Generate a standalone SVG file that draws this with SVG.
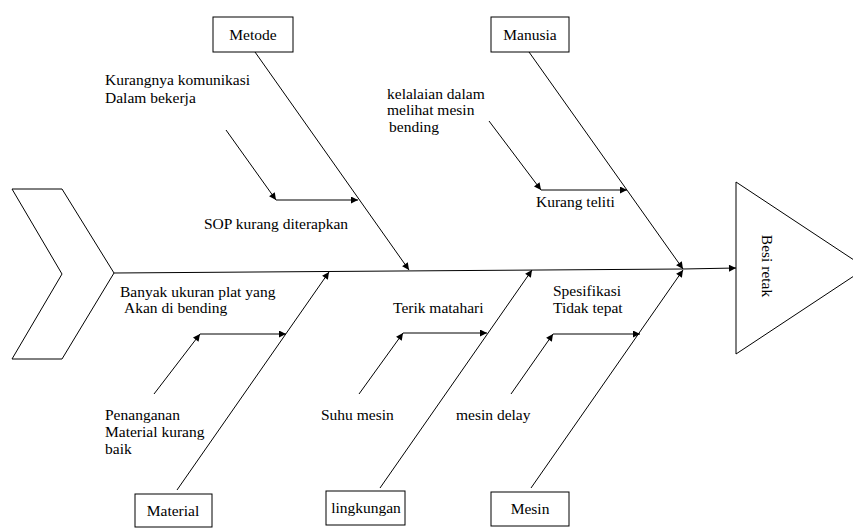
<svg xmlns="http://www.w3.org/2000/svg" width="853" height="528" viewBox="0 0 853 528">
<defs>
<marker id="arr" viewBox="0 0 10 10" refX="10" refY="5" markerWidth="9" markerHeight="7" markerUnits="userSpaceOnUse" orient="auto">
<path d="M0,0 L10,5 L0,10 z" fill="#000"/>
</marker>
</defs>
<style>
text{font-family:'Liberation Serif','DejaVu Serif',serif;font-size:15.5px;fill:#000}
.c{text-anchor:middle}
.box{fill:#fff;stroke:#000;stroke-width:1}
.ln{stroke:#000;stroke-width:1;fill:none}
.a{marker-end:url(#arr)}
</style>
<rect width="853" height="528" fill="#fff"/>
<g id="tail"><path class="ln" d="M12,189 L62,189 L114,273 L62,359 L12,359 L62,274 Z"/></g>
<g id="head">
<path class="ln" d="M736,182 L866,268 L736,354 Z" fill="#fff"/>
<text class="c" transform="translate(762,266) rotate(90)">Besi retak</text>
</g>
<g id="metode"><rect class="box" x="213" y="17" width="80" height="35"/><text class="c" x="253" y="40">Metode</text></g>
<g id="manusia"><rect class="box" x="491" y="17" width="78" height="35"/><text class="c" x="530" y="40">Manusia</text></g>
<g id="material"><rect class="box" x="135" y="494" width="77" height="33"/><text class="c" x="173" y="516">Material</text></g>
<g id="lingkungan"><rect class="box" x="326" y="491" width="79" height="34"/><text class="c" x="366" y="513">lingkungan</text></g>
<g id="mesin"><rect class="box" x="491" y="492" width="78" height="34"/><text class="c" x="530" y="514">Mesin</text></g>
<g id="causes">
<text x="105" y="85">Kurangnya komunikasi</text>
<text x="105" y="103">Dalam bekerja</text>
<text x="204" y="229">SOP kurang diterapkan</text>
<text x="387" y="99">kelalaian dalam</text>
<text x="387" y="115">melihat mesin</text>
<text x="389" y="132">bending</text>
<text x="536" y="207">Kurang teliti</text>
<text x="120" y="297">Banyak ukuran plat yang</text>
<text x="124" y="313">Akan di bending</text>
<text x="105" y="420">Penanganan</text>
<text x="105" y="437">Material kurang</text>
<text x="105" y="454">baik</text>
<text x="393" y="313">Terik matahari</text>
<text x="321" y="420">Suhu mesin</text>
<text x="553" y="296">Spesifikasi</text>
<text x="553" y="313">Tidak tepat</text>
<text x="456" y="420">mesin delay</text>
</g>
<g id="connectors">
<line class="ln" x1="114" y1="273" x2="683" y2="269"/>
<line class="ln a" x1="683" y1="269" x2="736" y2="268"/>
<line class="ln a" x1="255" y1="52" x2="409" y2="270"/>
<line class="ln a" x1="529" y1="52" x2="683" y2="269"/>
<line class="ln a" x1="177" y1="490" x2="329" y2="272"/>
<line class="ln a" x1="380" y1="488" x2="532" y2="270"/>
<line class="ln a" x1="531" y1="488" x2="683" y2="270"/>
<line class="ln a" x1="226" y1="130" x2="276" y2="200"/>
<line class="ln a" x1="276" y1="200" x2="358" y2="200"/>
<line class="ln a" x1="489" y1="121" x2="541" y2="190"/>
<line class="ln a" x1="541" y1="190" x2="627" y2="190"/>
<line class="ln a" x1="154" y1="394" x2="200" y2="334"/>
<line class="ln a" x1="200" y1="334" x2="286" y2="334"/>
<line class="ln a" x1="359" y1="394" x2="403" y2="333"/>
<line class="ln a" x1="403" y1="333" x2="487" y2="333"/>
<line class="ln a" x1="511" y1="394" x2="553" y2="334"/>
<line class="ln a" x1="553" y1="334" x2="640" y2="334"/>
</g>
</svg>
